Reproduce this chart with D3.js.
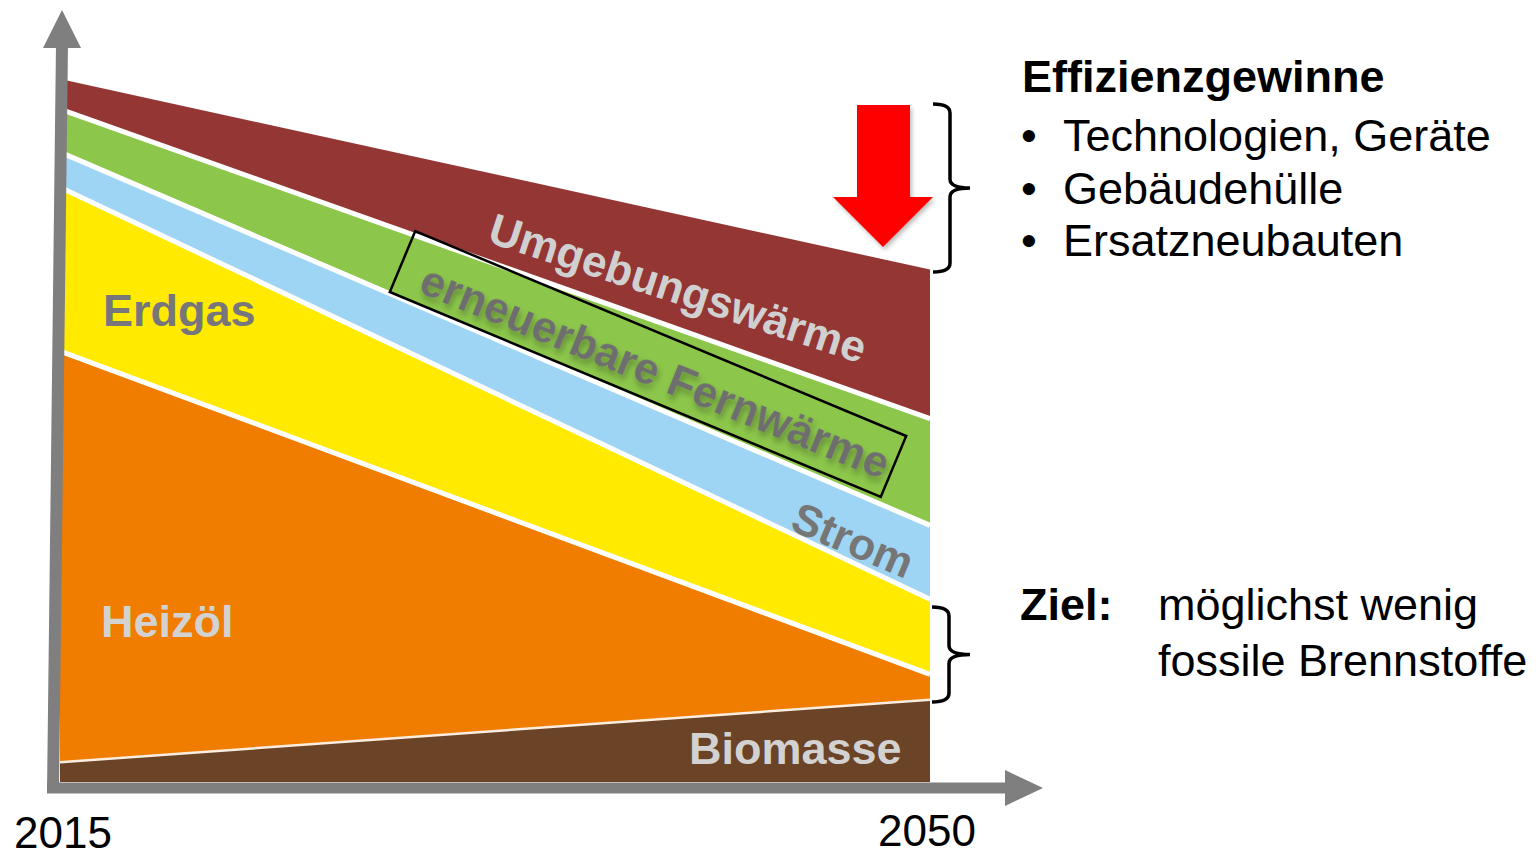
<!DOCTYPE html>
<html lang="de">
<head>
<meta charset="UTF-8">
<title>Energieträger 2015 - 2050</title>
<script src="https://cdnjs.cloudflare.com/ajax/libs/d3/7.8.5/d3.min.js"></script>
<style>
    body{
        margin:0;
        background:#fff;
        font-family:"Liberation Sans", Arial, sans-serif;
    }
    svg{
        display:block;
    }
</style>
</head>
<body>
<svg width="1536" height="858"></svg>
<script>
// values (2015 total = 100)
const years = [2015, 2050];
const biomasse   = [2.8, 11.7];
const heizoel    = [58.5, 3.6];
const erdgas     = [23.3, 10.7];
const strom      = [5.0, 10.5];
const fernwaerme = [6.1, 15.2];
const umgebung   = [4.3, 21.2];

const keys = ["Biomasse", "Heizöl", "Erdgas", "Strom", "erneuerbare Fernwärme", "Umgebungswärme"];
const colors = ["#6b4326", "#f07c00", "#ffea00", "#9fd5f4", "#8cc74b", "#943634"];
const tickLabels = ["2015", "2050"];

const effTitle = "Effizienzgewinne";
const effItems = ["Technologien, Geräte", "Gebäudehülle", "Ersatzneubauten"];
const zielLines = ["möglichst wenig", "fossile Brennstoffe"];

const table = years.map((yr, i) => ({
    year: yr,
    "Biomasse": biomasse[i],
    "Heizöl": heizoel[i],
    "Erdgas": erdgas[i],
    "Strom": strom[i],
    "erneuerbare Fernwärme": fernwaerme[i],
    "Umgebungswärme": umgebung[i]
}));

const svg = d3.select("svg");
const x = d3.scaleLinear().domain([2015, 2050]).range([60, 930]);
const y = d3.scaleLinear().domain([0, 100]).range([782, 79]);

const defs = svg.append("defs");
const shadow = defs.append("filter").attr("id", "shadow")
    .attr("x", "-10%").attr("y", "-30%").attr("width", "130%").attr("height", "160%");
shadow.append("feDropShadow").attr("dx", 3).attr("dy", 4)
    .attr("stdDeviation", 3).attr("flood-color", "#000").attr("flood-opacity", 0.3);
const soft = defs.append("filter").attr("id", "soft")
    .attr("x", "-20%").attr("y", "-20%").attr("width", "150%").attr("height", "150%");
soft.append("feDropShadow").attr("dx", 2).attr("dy", 3)
    .attr("stdDeviation", 2).attr("flood-color", "#000").attr("flood-opacity", 0.25);

// stacked areas
const series = d3.stack().keys(keys)(table);
const area = d3.area()
    .x(d => x(d.data.year))
    .y0(d => y(d[0]))
    .y1(d => y(d[1]));

svg.append("g").selectAll("path")
    .data(series)
    .enter()
    .append("path")
    .attr("d", area)
    .attr("fill", (d, i) => colors[i]);

// white separators between layers
const edge = d3.line().x(d => x(d.data.year)).y(d => y(d[1]));
svg.append("g").selectAll("path")
    .data(series.slice(0, series.length - 1))
    .enter()
    .append("path")
    .attr("d", edge)
    .attr("fill", "none")
    .attr("stroke", (d, i) => i === 0 ? "#fbeee0" : "#fff")
    .attr("stroke-width", (d, i) => i === 0 ? 2.5 : 5);

// axes with arrows
const axisColor = "#7f7f7f";
svg.append("line")
    .attr("x1", 53).attr("y1", 793).attr("x2", 62).attr("y2", 44)
    .attr("stroke", axisColor).attr("stroke-width", 12);
svg.append("path")
    .attr("d", "M62,10 L81,48 L43,48 Z")
    .attr("fill", axisColor);
svg.append("line")
    .attr("x1", 47).attr("y1", 788).attr("x2", 1008).attr("y2", 788)
    .attr("stroke", axisColor).attr("stroke-width", 11);
svg.append("path")
    .attr("d", "M1043,788 L1005,770 L1005,806 Z")
    .attr("fill", axisColor);

const tickY = [848, 846];
svg.append("g").selectAll("text")
    .data(years)
    .enter()
    .append("text")
    .attr("x", (d, i) => x(d) + (i === 0 ? 3 : -3))
    .attr("y", (d, i) => tickY[i])
    .attr("text-anchor", "middle")
    .attr("font-size", 44)
    .attr("fill", "#000")
    .text((d, i) => tickLabels[i]);

// layer labels
svg.append("text").attr("x", 103).attr("y", 326)
    .attr("font-size", 45).attr("font-weight", "bold").attr("fill", "#76767b")
    .text("Erdgas");
svg.append("text").attr("x", 101).attr("y", 637)
    .attr("font-size", 45).attr("font-weight", "bold").attr("fill", "#d2d2d2")
    .text("Heizöl");
svg.append("text").attr("x", 689).attr("y", 764)
    .attr("font-size", 45).attr("font-weight", "bold").attr("fill", "#d2d2d2")
    .text("Biomasse");

function tilted(text, cx, cy, angle, fill, filter) {
    const t = svg.append("text")
        .attr("transform", `translate(${cx},${cy}) rotate(${angle})`)
        .attr("text-anchor", "middle")
        .attr("dy", "0.35em")
        .attr("font-size", 44)
        .attr("font-weight", "bold")
        .attr("fill", fill)
        .text(text);
    if (filter) t.attr("filter", filter);
    return t;
}
tilted("Umgebungswärme", 678, 288, 18, "#d0d0d0");

svg.append("rect")
    .attr("transform", "translate(648,364) rotate(22.66)")
    .attr("x", -266).attr("y", -33).attr("width", 532).attr("height", 66)
    .attr("fill", "none").attr("stroke", "#000").attr("stroke-width", 2.5);
tilted("erneuerbare Fernwärme", 655, 372, 22, "#6e6e6e", "url(#shadow)");
tilted("Strom", 853, 540, 23, "#767676");

// red arrow
svg.append("path")
    .attr("d", "M857,105 L910,105 L910,197 L933,197 L883,247 L833,197 L857,197 Z")
    .attr("fill", "#ff0000")
    .attr("filter", "url(#soft)");

// braces
function brace(x0, y0, y1, xTip) {
    const x1 = x0 + 17, r = 9, ym = (y0 + y1) / 2;
    return `M${x0},${y0} Q${x1},${y0} ${x1},${y0 + r} L${x1},${ym - r} Q${x1},${ym} ${xTip},${ym}` +
        ` Q${x1},${ym} ${x1},${ym + r} L${x1},${y1 - r} Q${x1},${y1} ${x0},${y1}`;
}
svg.append("path").attr("d", brace(933, 104, 272, 970))
    .attr("fill", "none").attr("stroke", "#000").attr("stroke-width", 3.5);
svg.append("path").attr("d", brace(932, 607, 702, 970))
    .attr("fill", "none").attr("stroke", "#000").attr("stroke-width", 3.5);

// text on the right
svg.append("text").attr("x", 1022).attr("y", 92)
    .attr("font-size", 45).attr("font-weight", "bold").text(effTitle);
const items = svg.append("g").selectAll("g")
    .data(effItems)
    .enter()
    .append("g")
    .attr("transform", (d, i) => `translate(0,${151 + i * 52.5})`);
items.append("text").attr("x", 1021).attr("font-size", 45).text("•");
items.append("text").attr("x", 1063).attr("font-size", 45).text(d => d);

svg.append("text").attr("x", 1020).attr("y", 620)
    .attr("font-size", 45).attr("font-weight", "bold").text("Ziel:");
svg.append("g").selectAll("text")
    .data(zielLines)
    .enter()
    .append("text")
    .attr("x", 1158)
    .attr("y", (d, i) => 620 + i * 56)
    .attr("font-size", 45)
    .text(d => d);
</script>
</body>
</html>
